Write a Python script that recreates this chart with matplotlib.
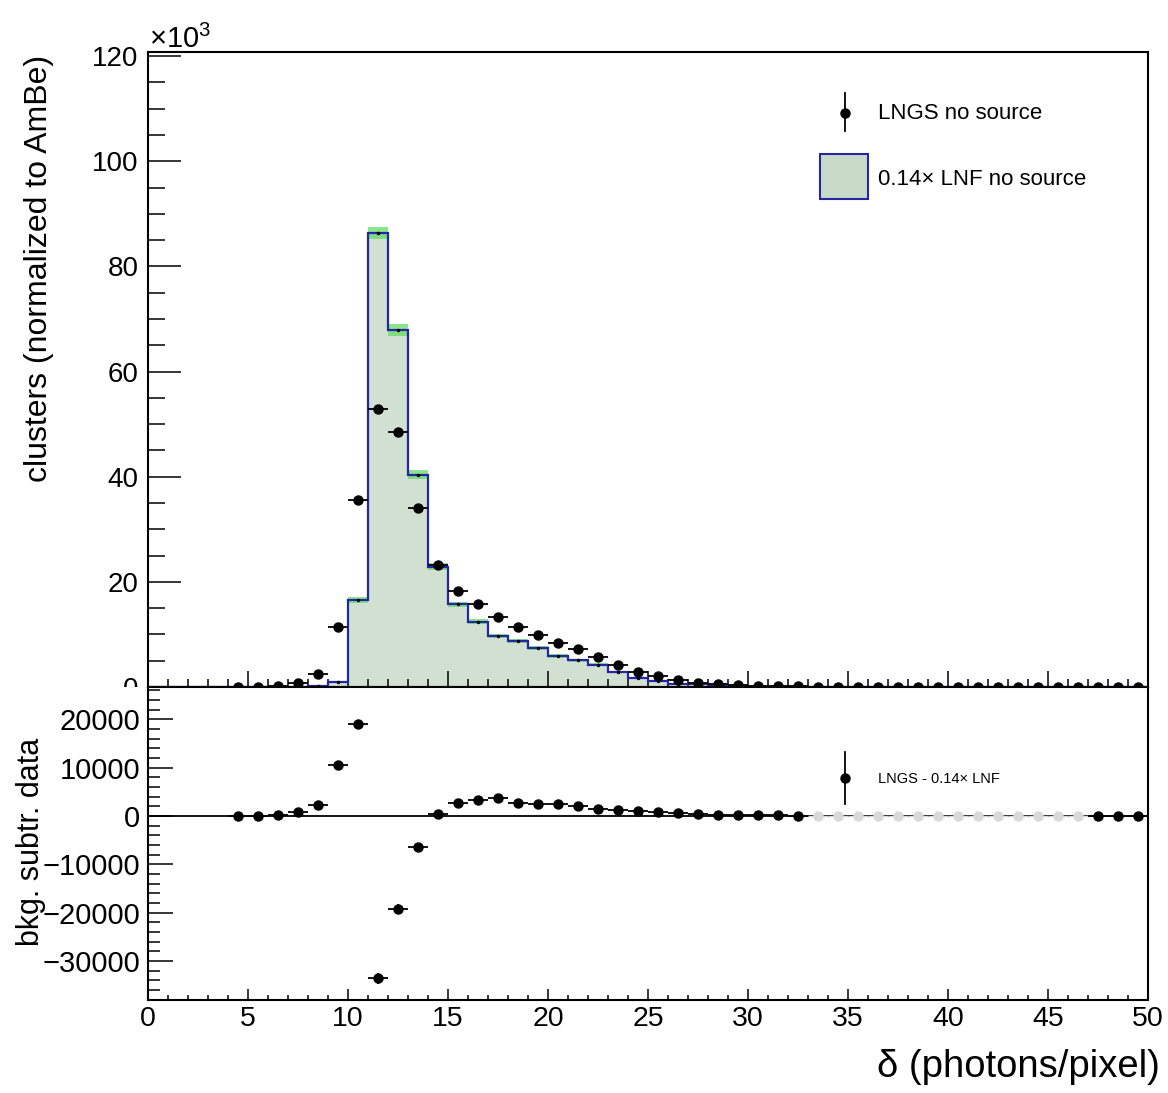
import numpy as np
import matplotlib
matplotlib.use("Agg")
import matplotlib.pyplot as plt
from matplotlib.ticker import MultipleLocator
from matplotlib.patches import Rectangle

plt.rcParams['font.family'] = ['Liberation Sans', 'DejaVu Sans']
plt.rcParams['mathtext.fontset'] = 'custom'
plt.rcParams['mathtext.rm'] = 'Liberation Sans'
plt.rcParams['mathtext.it'] = 'Liberation Sans:italic'

# ---------------- data ----------------
bin_edges = np.arange(0, 51)  # delta bins of width 1

# 0.14 x LNF no source (thousands of clusters), bins 0..49
bkg_k = [0, 0, 0, 0, 0, 0, 0, 0, 0.1, 0.9,
         16.6, 86.4, 67.9, 40.4, 22.9, 15.7, 12.4, 9.7, 8.8, 7.4,
         5.9, 5.1, 4.2, 2.8, 1.8, 1.2, 0.6, 0.5, 0.3, 0.2,
         0, 0, 0, 0, 0, 0, 0, 0, 0, 0,
         0, 0, 0, 0, 0, 0, 0, 0, 0, 0]
bkg_err_k = [0, 0, 0, 0, 0, 0, 0, 0, 0.05, 0.15,
             0.55, 1.2, 1.1, 0.85, 0.6, 0.5, 0.45, 0.4, 0.38, 0.35,
             0.3, 0.3, 0.28, 0.22, 0.18, 0.15, 0.1, 0.1, 0.08, 0.06,
             0, 0, 0, 0, 0, 0, 0, 0, 0, 0,
             0, 0, 0, 0, 0, 0, 0, 0, 0, 0]

# LNGS no source (thousands), bin centres 4.5 .. 49.5
lngs_centers = [4.5, 5.5, 6.5, 7.5, 8.5, 9.5, 10.5, 11.5, 12.5, 13.5,
                14.5, 15.5, 16.5, 17.5, 18.5, 19.5, 20.5, 21.5, 22.5, 23.5,
                24.5, 25.5, 26.5, 27.5, 28.5, 29.5, 30.5, 31.5, 32.5, 33.5,
                34.5, 35.5, 36.5, 37.5, 38.5, 39.5, 40.5, 41.5, 42.5, 43.5,
                44.5, 45.5, 46.5, 47.5, 48.5, 49.5]
lngs_k = [0.05, 0.08, 0.2, 0.75, 2.4, 11.5, 35.6, 52.8, 48.6, 34.1,
          23.3, 18.3, 15.7, 13.4, 11.4, 9.9, 8.4, 7.2, 5.7, 4.1,
          2.9, 2.0, 1.3, 0.85, 0.55, 0.35, 0.22, 0.15, 0.1, 0.05,
          0.05, 0.05, 0.05, 0.05, 0.05, 0.05, 0.05, 0.05, 0.05, 0.05,
          0.05, 0.05, 0.05, 0.05, 0.05, 0.05]

# uncertainty on the background-subtracted points (clusters)
diff_err = [60, 60, 120, 250, 400, 600, 700, 1150, 1050, 800,
            550, 450, 420, 380, 350, 330, 300, 280, 250, 220,
            190, 160, 130, 110, 90, 70, 60, 50, 40, 0,
            0, 0, 0, 0, 0, 0, 0, 0, 0, 0,
            0, 0, 0, 40, 40, 40]

# bins shown faded in the lower panel
faded_centers = [33.5, 34.5, 35.5, 36.5, 37.5, 38.5, 39.5, 40.5, 41.5,
                 42.5, 43.5, 44.5, 45.5, 46.5]

# ---------------- derived ----------------
bkg_k = np.array(bkg_k)
bkg_err_k = np.array(bkg_err_k)
lngs_centers = np.array(lngs_centers)
lngs_k = np.array(lngs_k)
bkg_at_pts = bkg_k[(lngs_centers - 0.5).astype(int)]
diff = (lngs_k - bkg_at_pts) * 1000.0
diff_err = np.array(diff_err, dtype=float)
faded = np.isin(lngs_centers, faded_centers)

# ---------------- styles ----------------
W, H = 1168, 1093
fill_col = '#d1e0d1'
line_col = '#2525a8'
band_col = (0.36, 0.86, 0.36)

fig = plt.figure(figsize=(W / 100, H / 100), dpi=100)
ax1 = fig.add_axes([148 / W, 1 - 687 / H, 1000 / W, (687 - 52) / H])
ax2 = fig.add_axes([148 / W, 1 - 1000 / H, 1000 / W, (1000 - 687) / H])

# ---- top panel ----
ax1.stairs(bkg_k, bin_edges, fill=True, color=fill_col, zorder=1)
ax1.stairs(bkg_k + bkg_err_k, bin_edges, baseline=bkg_k - bkg_err_k,
           fill=True, color=band_col, alpha=0.7, lw=0, zorder=2)
ax1.stairs(bkg_k, bin_edges, color=line_col, lw=1.6, zorder=3)
centers_all = 0.5 * (bin_edges[:-1] + bin_edges[1:])
nz = bkg_k > 0
ax1.plot(centers_all[nz], bkg_k[nz], 'o', color='k', ms=1.5, zorder=4)
ax1.errorbar(lngs_centers, lngs_k, xerr=0.5, fmt='o', color='k', ms=6.5,
             elinewidth=1.3, capsize=0, zorder=5)

ax1.set_xlim(0, 50)
ax1.set_ylim(0, 120.8)
ax1.xaxis.set_major_locator(MultipleLocator(5))
ax1.xaxis.set_minor_locator(MultipleLocator(1))
ax1.yaxis.set_major_locator(MultipleLocator(20))
ax1.yaxis.set_minor_locator(MultipleLocator(5))
ax1.tick_params(which='both', direction='in', top=False, right=False,
                labelbottom=False, width=1.1)
ax1.tick_params(axis='x', which='major', length=11.5)
ax1.tick_params(axis='x', which='minor', length=5.8)
ax1.tick_params(axis='y', which='major', length=24, labelsize=20, pad=7)
ax1.tick_params(axis='y', which='minor', length=12)
for s in ax1.spines.values():
    s.set_linewidth(1.5)

# legend (top)
fig.text(149 / W, 1 - 48 / H, r'$\mathregular{\times10^{3}}$', fontsize=21,
         ha='left', va='baseline')
lx, ly = 845 / W, 1 - 113 / H
fig.add_artist(plt.Line2D([lx, lx], [1 - 93 / H, 1 - 131 / H], color='k', lw=1.3))
fig.add_artist(plt.Line2D([lx], [ly], marker='o', color='k', ms=6.5))
fig.text(878 / W, 1 - 119 / H, 'LNGS no source', fontsize=16, ha='left',
         va='baseline')
fig.add_artist(Rectangle((820 / W, 1 - 199 / H), 48 / W, 45 / H,
                         facecolor='#c8dac8', edgecolor=line_col, lw=1.5))
fig.text(878 / W, 1 - 185 / H, '0.14× LNF no source', fontsize=16,
         ha='left', va='baseline')

# ---- bottom panel ----
ax2.axhline(0, color='k', lw=1.3, zorder=1)
ok = ~faded
ax2.errorbar(lngs_centers[ok], diff[ok], xerr=0.5, yerr=diff_err[ok], fmt='o',
             color='k', ms=6.5, elinewidth=1.3, capsize=0, zorder=3)
ax2.errorbar(lngs_centers[faded], diff[faded] * 0, xerr=0.5, fmt='o',
             color='#d9d9d9', ms=6.5, elinewidth=1.0, capsize=0, zorder=2)

ax2.set_xlim(0, 50)
ax2.set_ylim(-38050, 26700)
ax2.xaxis.set_major_locator(MultipleLocator(5))
ax2.xaxis.set_minor_locator(MultipleLocator(1))
ax2.yaxis.set_major_locator(MultipleLocator(10000))
ax2.yaxis.set_minor_locator(MultipleLocator(2000))
ax2.tick_params(which='both', direction='in', top=False, right=False, width=1.1)
ax2.tick_params(axis='x', which='major', length=7.7, labelsize=20.5, pad=4)
ax2.tick_params(axis='x', which='minor', length=3.6)
ax2.tick_params(axis='y', which='major', length=18, labelsize=21, pad=5.5)
ax2.tick_params(axis='y', which='minor', length=8.6)
for s in ax2.spines.values():
    s.set_linewidth(1.5)

# bottom legend
bx, by = 845 / W, 1 - 778 / H
fig.add_artist(plt.Line2D([bx, bx], [1 - 752 / H, 1 - 804 / H], color='k', lw=1.3))
fig.add_artist(plt.Line2D([bx], [by], marker='o', color='k', ms=6.5))
fig.text(878 / W, 1 - 783 / H, 'LNGS - 0.14× LNF', fontsize=10.5,
         ha='left', va='baseline')

# hide lower half of the top panel's "0" label (covered by the lower pad)
fig.add_artist(Rectangle((0, 1 - 705 / H), 146 / W, 18 / H, facecolor='white',
                         edgecolor='none', zorder=1))

# axis titles
fig.text(39 / W, 1 - 55 / H, 'clusters (normalized to AmBe)', fontsize=23,
         rotation=90, ha='center', va='top')
fig.text(31 / W, 1 - 842 / H, 'bkg. subtr. data', fontsize=22,
         rotation=90, ha='center', va='center')
fig.text(1160 / W, 1 - 1077 / H, 'δ (photons/pixel)', fontsize=27.5,
         ha='right', va='baseline')

fig.savefig('out.png', dpi=100)
